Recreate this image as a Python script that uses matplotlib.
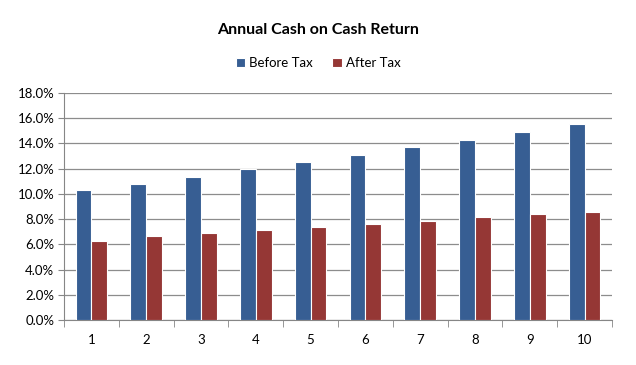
import matplotlib.pyplot as plt
import numpy as np
from matplotlib.ticker import FuncFormatter, FixedLocator

# 数据
years = ['1', '2', '3', '4', '5', '6', '7', '8', '9', '10']
before_tax = [10.3, 10.8, 11.37, 11.95, 12.5, 13.08, 13.7, 14.3, 14.9, 15.57]
after_tax = [6.29, 6.66, 6.87, 7.14, 7.4, 7.61, 7.88, 8.17, 8.4, 8.56]

plt.rcParams['font.family'] = ['Lato', 'DejaVu Sans']

fig = plt.figure(figsize=(6.36, 3.65), dpi=100)
ax = fig.add_axes([64/636, 1 - 320/365, (612 - 64)/636, (320 - 93)/365])

x = np.arange(len(years))
w = 0.29
ax.bar(x - w/2, before_tax, w, color='#375E93', edgecolor='white', linewidth=0.8,
       label='Before Tax', zorder=3)
ax.bar(x + w/2, after_tax, w, color='#953735', edgecolor='white', linewidth=0.8,
       label='After Tax', zorder=3)

ax.set_xlim(-0.5, len(years) - 0.5)
ax.set_ylim(0, 18)
ax.set_yticks(np.arange(0, 19, 2))
ax.yaxis.set_major_formatter(FuncFormatter(lambda v, p: f'{v:.1f}%'))
ax.set_xticks(x)
ax.set_xticklabels(years)
ax.xaxis.set_minor_locator(FixedLocator(np.arange(-0.5, len(years), 1)))
ax.tick_params(axis='x', which='major', length=0, pad=10, labelsize=9.5)
ax.tick_params(axis='x', which='minor', length=5, color='#868686', direction='out')
ax.tick_params(axis='y', length=4, color='#868686', labelsize=9.5, pad=3)

ax.grid(axis='y', color='#8c8c8c', linewidth=0.9, zorder=0)
for s in ['top', 'right']:
    ax.spines[s].set_visible(False)
ax.spines['left'].set_color('#868686')
ax.spines['bottom'].set_color('#868686')

fig.text(0.5, 1 - 30/365, 'Annual Cash on Cash Return', ha='center', va='center',
         fontsize=11.5, fontweight='bold')
fig.legend(loc='center', bbox_to_anchor=(0.5, 1 - 63/365), ncol=2, frameon=False,
           fontsize=9.5, handlelength=0.7, handleheight=0.7, handletextpad=0.3,
           columnspacing=1.5)

plt.savefig('out.png', dpi=100)
